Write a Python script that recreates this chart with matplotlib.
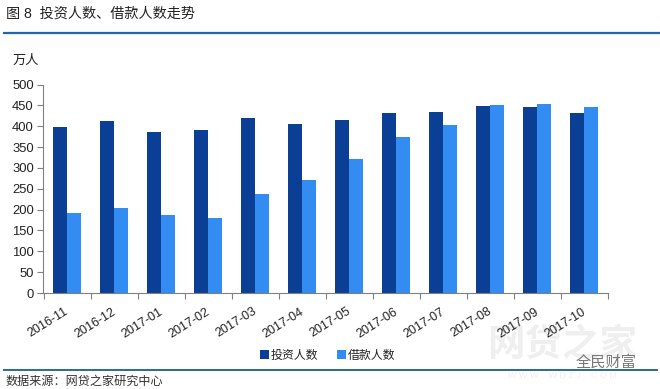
"""Figure 8: investor and borrower counts by month."""
import matplotlib
matplotlib.use("Agg")
import matplotlib.pyplot as plt
import numpy as np

plt.rcParams["font.family"] = ["Liberation Sans", "Noto Sans CJK SC"]

months = ["2016-11", "2016-12", "2017-01", "2017-02", "2017-03", "2017-04",
          "2017-05", "2017-06", "2017-07", "2017-08", "2017-09", "2017-10"]
investors = [398, 412, 386, 391, 420, 405, 415, 432, 435, 448, 446, 432]
borrowers = [191, 204, 187, 180, 238, 270, 322, 375, 403, 451, 454, 446]
y_ticks = list(range(0, 501, 50))

W, H = 660, 389
fig = plt.figure(figsize=(W / 100, H / 100), dpi=100)
ax = fig.add_axes([43.5 / W, 1 - 293 / H, 564 / W, 208.5 / H])

x = np.arange(len(months))
bar_w = 0.29
ax.bar(x - bar_w / 2, investors, bar_w, color="#0B3F96", label="投资人数")
ax.bar(x + bar_w / 2, borrowers, bar_w, color="#338CF2", label="借款人数")

ax.set_xlim(-0.5, len(months) - 0.5)
ax.set_ylim(0, 500)
ax.set_yticks(y_ticks)
ax.set_xticks(np.arange(len(months) + 1) - 0.5, minor=False)
ax.set_xticklabels([])
ax.tick_params(axis="y", length=4, width=0.8, color="#808080", labelsize=9.4, pad=3, labelcolor="#222222")
ax.tick_params(axis="x", length=4, width=0.8, color="#808080", direction="out")
ax.spines[["top", "right"]].set_visible(False)
ax.spines[["left", "bottom"]].set_color("#808080")
ax.spines[["left", "bottom"]].set_linewidth(0.8)

for i, month in enumerate(months):
    ax.annotate(month, (i, 0), xytext=(-2, -9), textcoords="offset points",
                rotation=32, ha="right", va="top", rotation_mode="anchor",
                fontsize=9, color="#222222", annotation_clip=False)

leg = fig.legend(loc="center", bbox_to_anchor=(327.5 / W, 1 - 356 / H), ncol=2, frameon=False,
                 fontsize=8.6, handlelength=0.75, handleheight=0.75, handletextpad=0.1,
                 columnspacing=1.65, labelcolor="#222222")

fig.text(6 / W, 1 - 13.5 / H, "图 8  投资人数、借款人数走势", fontsize=10.2, color="#222222", va="center")
fig.text(13 / W, 1 - 61 / H, "万人", fontsize=9.5, color="#222222", va="center")
fig.text(6 / W, 1 - 382 / H, "数据来源：网贷之家研究中心", fontsize=8.7, color="#333333", va="center")

# the two rules across the page
fig.add_artist(plt.Line2D([4 / W, 1], [1 - 33 / H] * 2, color="#1F66B0", lw=1.6))
fig.add_artist(plt.Line2D([4 / W, 657 / W], [1 - 369.5 / H] * 2, color="#2A6A96", lw=1.4))

# watermark, kept behind the axes so the month labels stay on top
fig.text(562 / W, 1 - 346 / H, "网贷之家", fontsize=27, color="#EFEFEF", ha="center", va="center",
         weight="bold", zorder=-1)
fig.text(606 / W, 1 - 362 / H, "全民财富", fontsize=11, color="#777777", ha="center", va="center")
fig.text(562 / W, 1 - 376 / H, "W W W .  W D Z J .  C O M", fontsize=6.5, color="#EFEFEF", ha="center", va="center",
         zorder=-1)

fig.savefig("out.png", dpi=100)
